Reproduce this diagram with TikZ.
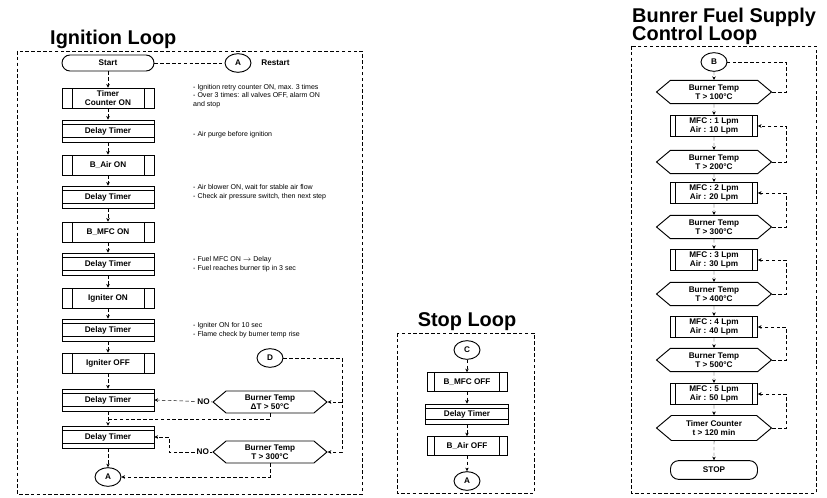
\documentclass[tikz,border=0pt]{standalone}
\usepackage{fontspec}
\setmainfont{Liberation Sans}
\usetikzlibrary{arrows.meta, shapes.geometric, shapes.symbols}

\begin{document}
\begin{tikzpicture}[x=0.3mm, y=-0.3mm,
  every node/.style={font=\fontsize{7}{7.5}\selectfont\bfseries, align=center, inner sep=1pt},
  looptitle/.style={font=\fontsize{17}{19}\selectfont\bfseries, inner sep=0pt},
  note/.style={font=\fontsize{6}{7.5}\selectfont, anchor=west, align=left, inner sep=0pt},
  frame/.style={densely dashed, line width=0.4pt},
  termbox/.style={draw, thick, rounded corners=2.4mm, minimum width=27.6mm, minimum height=4.8mm},
  procbox/.style={draw, thick, minimum width=27.6mm, minimum height=6mm,
    path picture={
      \draw[thick] ([xshift=#1]path picture bounding box.south west) -- ([xshift=#1]path picture bounding box.north west);
      \draw[thick] ([xshift=-#1]path picture bounding box.south east) -- ([xshift=-#1]path picture bounding box.north east);}},
  procbox/.default=3mm,
  delaybox/.style={draw, thick, minimum width=27.6mm, minimum height=6.6mm,
    path picture={
      \draw ([yshift=-1.3mm]path picture bounding box.north west) -- ([yshift=-1.3mm]path picture bounding box.north east);
      \draw ([yshift=1.3mm]path picture bounding box.south west) -- ([yshift=1.3mm]path picture bounding box.south east);}},
  decision/.style={draw, thick, signal, signal to=west and east, signal pointer angle=80,
    minimum width=34.2mm, minimum height=6.6mm},
  linkcirc/.style={draw, thick, ellipse, minimum width=7.8mm, minimum height=5.6mm},
  flow/.style={densely dashed, -{Stealth[length=3pt, width=3pt]}},
  link/.style={densely dashed}]
  \useasboundingbox (0,0) rectangle (827,498);

  \node[looptitle, anchor=west] (ttl1) at (50,39) {Ignition Loop};
  \draw[frame] (17,51) rectangle (362,494);
  \node[termbox] (i1) at (108,63) {Start};
  \node[procbox] (i2) at (108,98) {Timer\\Counter ON};
  \node[delaybox] (i3) at (108,131) {Delay Timer};
  \node[procbox] (i4) at (108,165) {B\_Air ON};
  \node[delaybox] (i5) at (108,197) {Delay Timer};
  \node[procbox] (i6) at (108,232) {B\_MFC ON};
  \node[delaybox] (i7) at (108,264) {Delay Timer};
  \node[procbox] (i8) at (108,298) {Igniter ON};
  \node[delaybox] (i9) at (108,330) {Delay Timer};
  \node[procbox] (i10) at (108,363) {Igniter OFF};
  \node[delaybox] (i11) at (108,400) {Delay Timer};
  \node[delaybox] (i12) at (108,437) {Delay Timer};
  \node[linkcirc] (ia) at (108,477) {A};
  \foreach \a/\b in {i1/i2, i2/i3, i3/i4, i4/i5, i5/i6, i6/i7, i7/i8, i8/i9,
    i9/i10, i10/i11, i11/i12, i12/ia}
    \draw[flow] (\a) -- (\b);

  \node[linkcirc] (ir) at (238,63) {A};
  \node[anchor=west] (irl) at (260,63) {Restart};
  \draw[link] (i1) -- (ir);

  \node[note] (n2) at (193,96) {- Ignition retry counter ON, max. 3 times\\- Over 3 times: all valves OFF, alarm ON\\and stop};
  \node[note] (n3) at (193,135) {- Air purge before ignition};
  \node[note] (n5) at (193,192) {- Air blower ON, wait for stable air flow\\- Check air pressure switch, then next step};
  \node[note] (n7) at (193,264) {- Fuel MFC ON $\rightarrow$ Delay\\- Fuel reaches burner tip in 3 sec};
  \node[note] (n9) at (193,330) {- Igniter ON for 10 sec\\- Flame check by burner temp rise};

  \node[linkcirc] (id) at (270,358) {D};
  \node[decision] (ih1) at (270,402) {Burner Temp\\ΔT > 50°C};
  \node[decision] (ih2) at (270,452) {Burner Temp\\T > 300°C};
  \coordinate (jd) at (342,358);
  \coordinate (m1) at (108,419);
  \coordinate (m2) at (169,452);
  \draw[flow] (id) -- (jd) |- (ih2.east);
  \draw[flow] (jd |- ih1.east) -- (ih1.east);
  \draw[flow] (ih1.west) -- node[pos=0.15, fill=white] {NO} (i11.east);
  \draw[link] (ih1.south) |- (m1);
  \draw[flow] (ih2.west) -- node[pos=0.22, fill=white] {NO} (m2) |- (i12.east);
  \draw[flow] (ih2.south) |- (ia.east);

  \node[looptitle] (ttl2) at (467,322) {Stop Loop};
  \draw[frame] (397,333) rectangle (534,493);
  \node[linkcirc] (sa) at (467,350) {C};
  \node[procbox=2.2mm, minimum width=24mm, minimum height=5.6mm] (s1) at (467,382) {B\_MFC OFF};
  \node[delaybox, minimum width=25mm, minimum height=6mm] (s2) at (467,414) {Delay Timer};
  \node[procbox=2.2mm, minimum width=24mm, minimum height=5.6mm] (s3) at (467,446) {B\_Air OFF};
  \node[linkcirc] (sb) at (467,481) {A};
  \foreach \a/\b in {sa/s1, s1/s2, s2/s3, s3/sb}
    \draw[flow] (\a) -- (\b);

  \node[looptitle, anchor=west] (ttl3) at (632,17) {Bunrer Fuel Supply};
  \node[looptitle, anchor=west] (ttl3b) at (632,35) {Control Loop};
  \draw[frame] (631,46) rectangle (816,493);
  \node[linkcirc] (ba) at (714,62) {B};
  \node[decision, minimum width=34.5mm, minimum height=7mm] (bh1) at (714,92) {Burner Temp\\T > 100°C};
  \node[procbox=1.5mm, minimum width=26.1mm, minimum height=6.4mm] (bb1) at (714,126) {MFC : 1 Lpm\\Air : 10 Lpm};
  \node[decision, minimum width=34.5mm, minimum height=7mm] (bh2) at (714,162) {Burner Temp\\T > 200°C};
  \node[procbox=1.5mm, minimum width=26.1mm, minimum height=6.4mm] (bb2) at (714,193) {MFC : 2 Lpm\\Air : 20 Lpm};
  \node[decision, minimum width=34.5mm, minimum height=7mm] (bh3) at (714,227) {Burner Temp\\T > 300°C};
  \node[procbox=1.5mm, minimum width=26.1mm, minimum height=6.4mm] (bb3) at (714,260) {MFC : 3 Lpm\\Air : 30 Lpm};
  \node[decision, minimum width=34.5mm, minimum height=7mm] (bh4) at (714,294) {Burner Temp\\T > 400°C};
  \node[procbox=1.5mm, minimum width=26.1mm, minimum height=6.4mm] (bb4) at (714,327) {MFC : 4 Lpm\\Air : 40 Lpm};
  \node[decision, minimum width=34.5mm, minimum height=7mm] (bh5) at (714,360) {Burner Temp\\T > 500°C};
  \node[procbox=1.5mm, minimum width=26.1mm, minimum height=6.4mm] (bb5) at (714,394) {MFC : 5 Lpm\\Air : 50 Lpm};
  \node[decision, minimum width=34.5mm, minimum height=7.5mm] (bh6) at (714,428) {Timer Counter\\t > 120 min};
  \node[termbox, minimum width=26.1mm, minimum height=5.6mm] (bstop) at (714,470) {STOP};
  \foreach \a/\b in {ba/bh1, bh1/bb1, bb1/bh2, bh2/bb2, bb2/bh3, bh3/bb3, bb3/bh4,
    bh4/bb4, bb4/bh5, bh5/bb5, bb5/bh6, bh6/bstop}
    \draw[flow] (\a) -- (\b);
  \coordinate (bx) at (786,0);
  \draw[link] (bh1.east) -- (bh1.east -| bx) |- (ba.east);
  \foreach \h/\t in {bh2/bb1, bh3/bb2, bh4/bb3, bh5/bb4, bh6/bb5}
    \draw[flow] (\h.east) -- (\h.east -| bx) |- (\t.east);
\end{tikzpicture}
\end{document}
